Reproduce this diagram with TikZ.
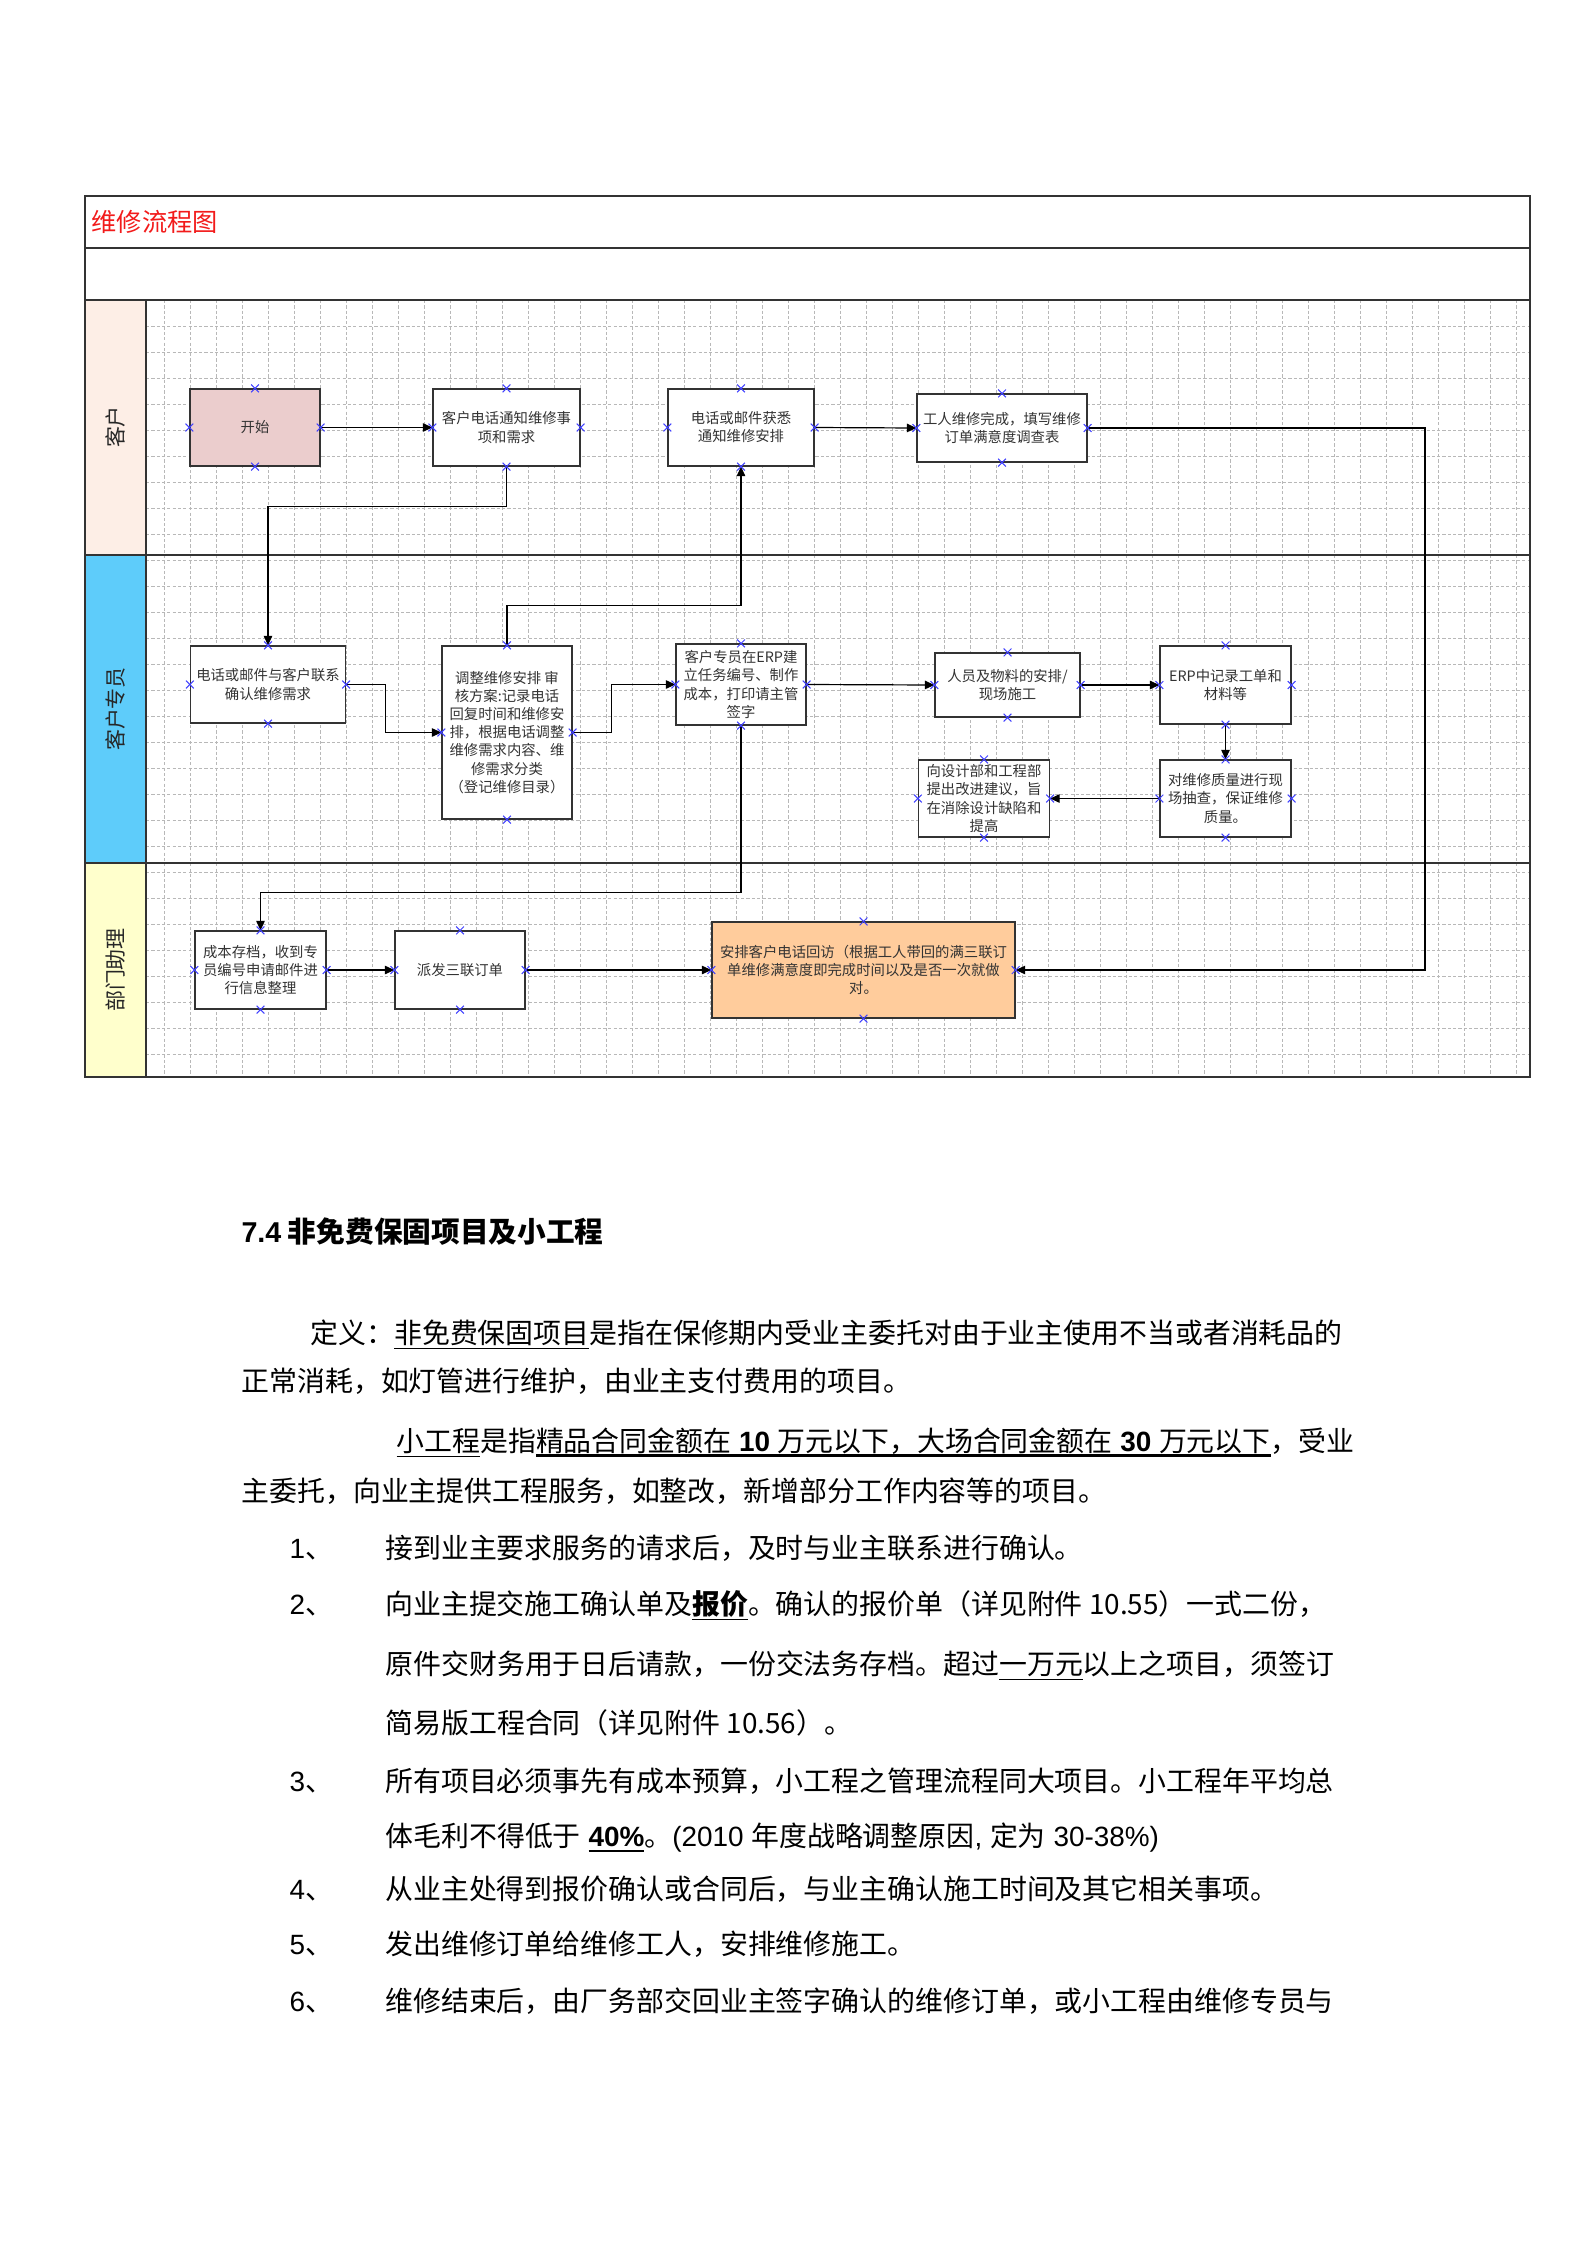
\documentclass[tikz,border=0pt]{standalone}
\usepackage{fontspec}
\setmainfont{Noto Sans CJK SC}
\newfontfamily\arialfont{Liberation Sans}
\usetikzlibrary{arrows.meta,shapes.misc}

\definecolor{titlered}{HTML}{F21B1B}
\definecolor{lanepeach}{HTML}{FDEEE6}
\definecolor{laneblue}{HTML}{5ECCFA}
\definecolor{laneyellow}{HTML}{FFFFCC}
\definecolor{startpink}{HTML}{EBCDCD}
\definecolor{callorange}{HTML}{FFCC9C}

\newcommand\bodyfont{\fontsize{10.5}{13}\selectfont}
\newcommand\headfont{\fontsize{10.8}{13}\selectfont\bfseries}
\newcommand\boxfont{\fontsize{5.4}{6.8}\selectfont}
\newcommand\lanefont{\fontsize{7.9}{9}\selectfont}
\newcommand\titlefont{\fontsize{9.5}{11}\selectfont}
\newcommand\lat[1]{{\arialfont #1}}
\newcommand\ulbox[2][0.5pt]{\leavevmode\setbox0=\hbox{#2}\rlap{\rule[-2.2pt]{\wd0}{#1}}\box0}
\newcommand\numitem[1]{\makebox[36.1pt][l]{\lat{#1}、}}

\begin{document}
\begin{tikzpicture}[x=0.0132325cm, y=-0.0132325cm,
    proc/.style={draw=black!80, line width=0.45pt, fill=white, inner sep=0pt,
        align=center, font=\boxfont, text=black!80},
    boxsize/.style 2 args={minimum width=#1*0.3765pt, minimum height=#2*0.3765pt},
    flow/.style={draw=black, line width=0.45pt, -{Triangle[length=3.6pt,width=3.2pt]}},
    frameline/.style={draw=black!80, line width=0.6pt},
    gridline/.style={draw=black!28, line width=0.3pt, dash pattern=on 1.2pt off 0.8pt},
    lanelabel/.style={rotate=90, font=\lanefont, text=black!85},
    xmark/.style={cross out, draw=blue!75, line width=0.35pt, minimum size=2.6pt, inner sep=0pt},
    para/.style={anchor=base west, inner sep=0pt, font=\bodyfont}]
    \useasboundingbox (0,0) rectangle (1587,2245);

    % Swimlane frame
    \fill[lanepeach] (85,300) rectangle (146,555);
    \fill[laneblue] (85,555) rectangle (146,863);
    \fill[laneyellow] (85,863) rectangle (146,1077);
    \foreach \gx in {164,190,...,1530}
        \draw[gridline] (\gx,300) -- (\gx,1077);
    \foreach \gy in {326,352,...,1077}
        \draw[gridline] (146,\gy) -- (1530,\gy);
    \draw[frameline] (85,196) rectangle (1530,1077);
    \foreach \ly in {248,300,555,863}
        \draw[frameline] (85,\ly) -- (1530,\ly);
    \draw[frameline] (146,300) -- (146,1077);

    \node[anchor=west, inner sep=0pt, text=titlered, font=\titlefont] (title) at (91,222) {维修流程图};
    \node[lanelabel] (lanecust) at (115.5,427) {客户};
    \node[lanelabel] (lanerep) at (115.5,709) {客户专员};
    \node[lanelabel] (laneasst) at (115.5,970) {部门助理};

    % Lane 1: customer
    \node[proc, boxsize={130}{77}, fill=startpink] (start) at (255,427.5) {开始};
    \node[proc, boxsize={147}{77}] (notify) at (506.5,427.5) {客户电话通知维修事\\项和需求};
    \node[proc, boxsize={146}{77}] (informed) at (741,427.5) {电话或邮件获悉\\通知维修安排};
    \node[proc, boxsize={170}{68}] (finish) at (1002,428) {工人维修完成，填写维修\\订单满意度调查表};

    % Lane 2: customer representative
    \node[proc, boxsize={155}{77}] (contact) at (268,684.5) {电话或邮件与客户联系\\确认维修需求};
    \node[proc, boxsize={130}{173}] (plan) at (507,732.5) {调整维修安排 审\\核方案:记录电话\\回复时间和维修安\\排，根据电话调整\\维修需求内容、维\\修需求分类\\（登记维修目录）};
    \node[proc, boxsize={130}{81}] (erp) at (741,684.5) {客户专员在ERP建\\立任务编号、制作\\成本，打印请主管\\签字};
    \node[proc, boxsize={145}{64}] (staff) at (1007.5,685) {人员及物料的安排/\\现场施工};
    \node[proc, boxsize={131}{78}] (record) at (1225.5,685) {ERP中记录工单和\\材料等};
    \node[proc, boxsize={131}{77}] (check) at (1225.5,798.5) {对维修质量进行现\\场抽查，保证维修\\质量。};
    \node[proc, boxsize={131}{77}] (suggest) at (984,798.5) {向设计部和工程部\\提出改进建议，旨\\在消除设计缺陷和\\提高};

    % Lane 3: department assistant
    \node[proc, boxsize={131}{78}] (archive) at (260.5,970) {成本存档，收到专\\员编号申请邮件进\\行信息整理};
    \node[proc, boxsize={130}{78}] (dispatch) at (460,970) {派发三联订单};
    \node[proc, boxsize={303}{96}, fill=callorange] (callback) at (863.5,970) {安排客户电话回访（根据工人带回的满三联订\\单维修满意度即完成时间以及是否一次就做\\对。};

    % Connectors
    \coordinate (rtturn) at (1425,0);
    \draw[flow] (start.east) -- (notify.west);
    \draw[flow] (notify.south) -- ++(0,40) -| (contact.north);
    \draw[flow] (contact.east) -- ++(39,0) |- (plan.west);
    \draw[flow] (plan.north) -- ++(0,-40) -| (informed.south);
    \draw[flow] (informed.east) -- (finish.west);
    \draw[flow] (plan.east) -- ++(39,0) |- (erp.west);
    \draw[flow] (erp.east) -- (staff.west);
    \draw[flow] (staff.east) -- (record.west);
    \draw[flow] (record.south) -- (check.north);
    \draw[flow] (check.west) -- (suggest.east);
    \draw[flow] (erp.south) -- ++(0,167) -| (archive.north);
    \draw[flow] (archive.east) -- (dispatch.west);
    \draw[flow] (dispatch.east) -- (callback.west);
    \draw[flow] (finish.east) -| (rtturn |- callback.east) -- (callback.east);

    % Connection points
    \foreach \n in {start,notify,informed,finish,contact,plan,erp,staff,record,check,suggest,archive,dispatch,callback}
        \foreach \a in {north,south,east,west}
            \node[xmark] at (\n.\a) {};

    % Section 7.4
    \node[para, font=\headfont] (head) at (241,1242) {\lat{\bfseries 7.4} 非免费保固项目及小工程};
    \node[para] (def1) at (310,1343) {定义：\ulbox{非免费保固项目}是指在保修期内受业主委托对由于业主使用不当或者消耗品的};
    \node[para] (def2) at (241,1391) {正常消耗，如灯管进行维护，由业主支付费用的项目。};
    \node[para] (small1) at (396,1451) {\ulbox{小工程}是指\ulbox[1pt]{精品合同金额在{\arialfont\bfseries\ 10\ }万元以下，大场合同金额在{\arialfont\bfseries\ 30\ }万元以下}，受业};
    \node[para] (small2) at (241,1501) {主委托，向业主提供工程服务，如整改，新增部分工作内容等的项目。};
    \node[para] (item1) at (289,1558) {\numitem{1}接到业主要求服务的请求后，及时与业主联系进行确认。};
    \node[para] (item2a) at (289,1614) {\numitem{2}向业主提交施工确认单及\ulbox{\bfseries 报价}。确认的报价单（详见附件 10.55）一式二份，};
    \node[para] (item2b) at (385,1674) {原件交财务用于日后请款，一份交法务存档。超过\ulbox{一万元}以上之项目，须签订};
    \node[para] (item2c) at (385,1733) {简易版工程合同（详见附件 10.56）。};
    \node[para] (item3a) at (289,1791) {\numitem{3}所有项目必须事先有成本预算，小工程之管理流程同大项目。小工程年平均总};
    \node[para] (item3b) at (385,1846) {体毛利不得低于\lat{ }\ulbox[0.8pt]{\arialfont\bfseries 40\%}。\lat{(2010 }年度战略调整原因\lat{, }定为\lat{ 30-38\%)}};
    \node[para] (item4) at (289,1899) {\numitem{4}从业主处得到报价确认或合同后，与业主确认施工时间及其它相关事项。};
    \node[para] (item5) at (289,1954) {\numitem{5}发出维修订单给维修工人，安排维修施工。};
    \node[para] (item6) at (289,2011) {\numitem{6}维修结束后，由厂务部交回业主签字确认的维修订单，或小工程由维修专员与};
\end{tikzpicture}
\end{document}
